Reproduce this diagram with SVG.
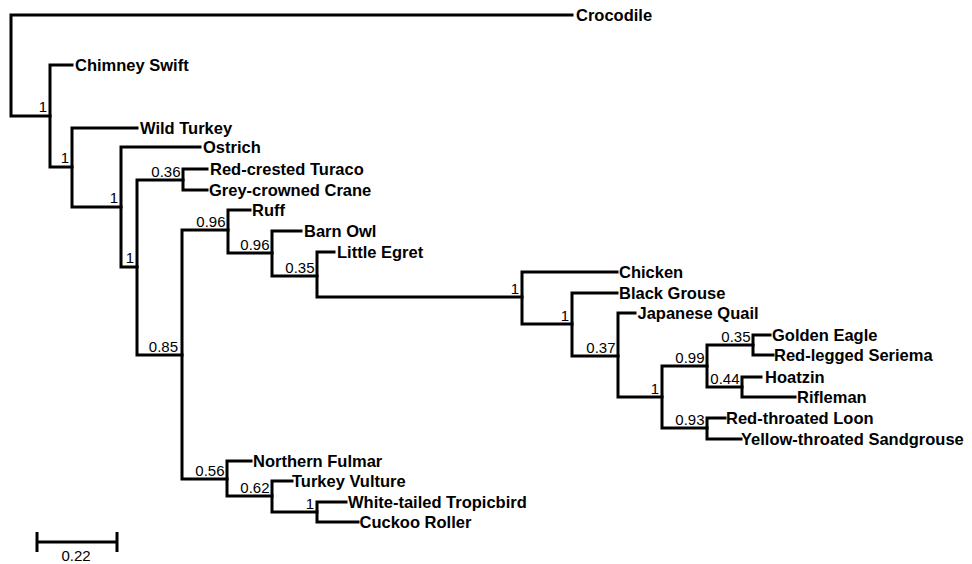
<svg xmlns="http://www.w3.org/2000/svg" width="972" height="564" viewBox="0 0 972 564">
<style>
.br{fill:none;stroke:#000;stroke-width:3;stroke-linecap:square;stroke-linejoin:miter}
.lf{font-family:"Liberation Sans",Arial,sans-serif;font-weight:bold;font-size:16.5px;fill:#000}
.bs{font-family:"Liberation Sans",Arial,sans-serif;font-size:15px;fill:#000;text-anchor:end}
.sc{font-family:"Liberation Sans",Arial,sans-serif;font-size:15px;fill:#000;text-anchor:middle}
</style>
<rect width="972" height="564" fill="#fff"/>
<g id="branches">
<path class="br" d="M572 15H11V116H50"/>
<path class="br" d="M72 65H50V167H72"/>
<path class="br" d="M137 128H72V207H121"/>
<path class="br" d="M200 147H121V267H137"/>
<path class="br" d="M183 180H137V355H182"/>
<path class="br" d="M207 169H183V190H207"/>
<path class="br" d="M228 230H182V479H227"/>
<path class="br" d="M250 210H228V253H272"/>
<path class="br" d="M301 231H272V276H317"/>
<path class="br" d="M334 252H317V297H522"/>
<path class="br" d="M617 272H522V324H572"/>
<path class="br" d="M617 293H572V356H618"/>
<path class="br" d="M635 313H618V397H662"/>
<path class="br" d="M707 366H662V428H707"/>
<path class="br" d="M753 345H707V387H742"/>
<path class="br" d="M770 335H753V355H773"/>
<path class="br" d="M761 377H742V397H795"/>
<path class="br" d="M725 418H707V439H741"/>
<path class="br" d="M251 461H227V496H272"/>
<path class="br" d="M292 481H272V512H317"/>
<path class="br" d="M346 502H317V522H358"/>
</g>
<g id="leaf-crocodile"><text class="lf" x="576" y="21">Crocodile</text></g>
<g id="leaf-chimney-swift"><text class="lf" x="75" y="71">Chimney Swift</text></g>
<g id="leaf-wild-turkey"><text class="lf" x="140" y="134">Wild Turkey</text></g>
<g id="leaf-ostrich"><text class="lf" x="203" y="153">Ostrich</text></g>
<g id="leaf-red-crested-turaco"><text class="lf" x="210" y="175">Red-crested Turaco</text></g>
<g id="leaf-grey-crowned-crane"><text class="lf" x="209" y="196">Grey-crowned Crane</text></g>
<g id="leaf-ruff"><text class="lf" x="252" y="216">Ruff</text></g>
<g id="leaf-barn-owl"><text class="lf" x="304" y="237">Barn Owl</text></g>
<g id="leaf-little-egret"><text class="lf" x="337" y="258">Little Egret</text></g>
<g id="leaf-chicken"><text class="lf" x="619" y="278">Chicken</text></g>
<g id="leaf-black-grouse"><text class="lf" x="619" y="299">Black Grouse</text></g>
<g id="leaf-japanese-quail"><text class="lf" x="637.5" y="319">Japanese Quail</text></g>
<g id="leaf-golden-eagle"><text class="lf" x="772" y="341">Golden Eagle</text></g>
<g id="leaf-red-legged-seriema"><text class="lf" x="774" y="361">Red-legged Seriema</text></g>
<g id="leaf-hoatzin"><text class="lf" x="765" y="383">Hoatzin</text></g>
<g id="leaf-rifleman"><text class="lf" x="797" y="403">Rifleman</text></g>
<g id="leaf-red-throated-loon"><text class="lf" x="726" y="424">Red-throated Loon</text></g>
<g id="leaf-yellow-throated-sandgrouse"><text class="lf" x="741" y="445">Yellow-throated Sandgrouse</text></g>
<g id="leaf-northern-fulmar"><text class="lf" x="253" y="467">Northern Fulmar</text></g>
<g id="leaf-turkey-vulture"><text class="lf" x="292" y="487">Turkey Vulture</text></g>
<g id="leaf-white-tailed-tropicbird"><text class="lf" x="348" y="508">White-tailed Tropicbird</text></g>
<g id="leaf-cuckoo-roller"><text class="lf" x="359.5" y="528">Cuckoo Roller</text></g>
<g id="node-n1"><text class="bs" x="47" y="112">1</text></g>
<g id="node-n2"><text class="bs" x="69" y="163">1</text></g>
<g id="node-n3"><text class="bs" x="118" y="203">1</text></g>
<g id="node-n4"><text class="bs" x="134" y="263">1</text></g>
<g id="node-n5"><text class="bs" x="180.5" y="176.5">0.36</text></g>
<g id="node-n6"><text class="bs" x="178" y="351.5">0.85</text></g>
<g id="node-n7"><text class="bs" x="225.5" y="226.5">0.96</text></g>
<g id="node-n8"><text class="bs" x="269.5" y="249.5">0.96</text></g>
<g id="node-n9"><text class="bs" x="314.5" y="272.5">0.35</text></g>
<g id="node-n10"><text class="bs" x="519" y="293.5">1</text></g>
<g id="node-n11"><text class="bs" x="569" y="320.5">1</text></g>
<g id="node-n12"><text class="bs" x="615.5" y="352.5">0.37</text></g>
<g id="node-n13"><text class="bs" x="659" y="393.5">1</text></g>
<g id="node-n14"><text class="bs" x="704.5" y="362.5">0.99</text></g>
<g id="node-n15"><text class="bs" x="750.5" y="341.5">0.35</text></g>
<g id="node-n16"><text class="bs" x="739.5" y="383.5">0.44</text></g>
<g id="node-n17"><text class="bs" x="704.5" y="424.5">0.93</text></g>
<g id="node-n18"><text class="bs" x="224.5" y="475.5">0.56</text></g>
<g id="node-n19"><text class="bs" x="269.5" y="492.5">0.62</text></g>
<g id="node-n20"><text class="bs" x="314" y="508.5">1</text></g>
<g id="scale-bar">
<path class="br" d="M37 542H117M37 532V552M117 532V552" style="stroke-linecap:butt"/>
<text class="sc" x="76" y="561">0.22</text>
</g>
</svg>
